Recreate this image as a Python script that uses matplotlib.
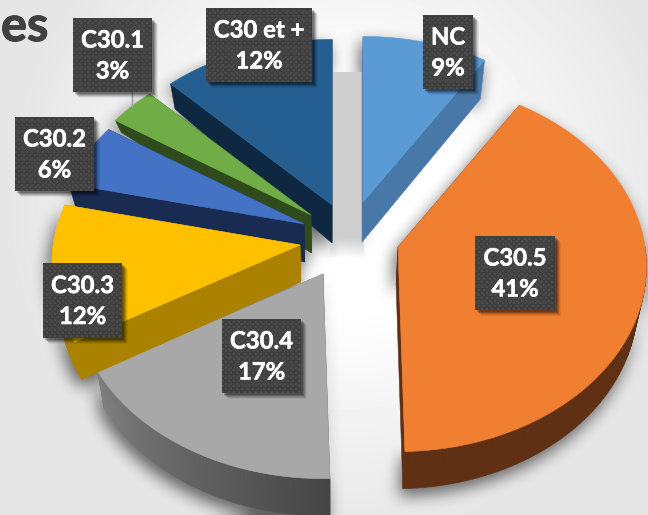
import numpy as np
import matplotlib
matplotlib.use("Agg")
import matplotlib.pyplot as plt
import matplotlib.patheffects as pe
from matplotlib.patches import Polygon, Rectangle

# ---- data (labels show the rounded percentage)
categories = ["NC", "C30.5", "C30.4", "C30.3", "C30.2", "C30.1", "C30 et +"]
values = [9.0, 40.6, 17.0, 12.0, 5.6, 3.4, 12.4]

# ---- styles / layout
top_colors = ["#5b9bd5", "#f07f31", "#a8a8a8", "#ffc000", "#4472c4", "#70ad47", "#255e91"]
wall_colors = ["#4778a8", "#5f3013", "#555555", "#ab8200", "#1a2b52", "#2f4a1b", "#0e2841"]
apex_px = [(363, 202), (398, 247), (323, 274), (300, 245), (304, 224), (311, 215), (332, 205)]
outer_depth = [39, 37, 37, 37, 25, 12, 25]
apex_depth = [40, 38, 38, 37, 38, 38, 38]
draw_order = [6, 5, 4, 2, 3, 0, 1]
label_boxes = [(423, 15, 473, 89), (475, 236, 555, 310), (222, 319, 301, 393),
               (43, 263, 122, 338), (15, 117, 94, 191), (73, 18, 152, 92), (206, 8, 312, 82)]
R, RA, K, VX, SHR = 247.0, 183.0, 0.1056, 330.0, 0.028

plt.rcParams["font.family"] = ["Lato", "DejaVu Sans"]
fig = plt.figure(figsize=(6.48, 5.15), dpi=100)
ax = fig.add_axes([0, 0, 1, 1])
ax.set_xlim(0, 648)
ax.set_ylim(515, 0)
ax.axis("off")

# background glow
yy, xx = np.mgrid[0:515, 0:648]
dist = np.hypot(xx - 345, yy - 200)
bg = 1.0 - 0.10 * np.clip((dist - 110) / 230, 0, 1)
ax.imshow(bg, cmap="gray", vmin=0, vmax=1, extent=(0, 648, 515, 0), aspect="auto", zorder=0)


def proj(theta):
    d = 1 + K * np.cos(theta)
    return R * np.sin(theta) / d, -RA * np.cos(theta) / d


def bottom(x, y, frac, i):
    depth = apex_depth[i] + (outer_depth[i] - apex_depth[i]) * frac
    return x + (VX - x) * SHR, y + depth


fractions = np.array(values) / sum(values)
edges = np.concatenate([[0], np.cumsum(fractions)]) * 2 * np.pi
slices = []
for i in range(len(values)):
    th = np.linspace(edges[i], edges[i + 1], max(8, int(values[i] * 3)))
    dx, dy = proj(th)
    ax0, ay0 = apex_px[i]
    slices.append((th, ax0 + dx, ay0 + dy, ax0, ay0))

# soft shadows: rasterise the outlines off-screen, blur, and lay down as an image
sfig = plt.figure(figsize=(6.48, 5.15), dpi=100, facecolor="white")
sax = sfig.add_axes([0, 0, 1, 1])
sax.set_xlim(0, 648)
sax.set_ylim(515, 0)
sax.axis("off")
for i in range(len(values)):
    th, x, y, a0, b0 = slices[i]
    bx, by = bottom(x, y, 1, i)
    a1, b1 = bottom(a0, b0, 0, i)
    pts = np.column_stack([np.r_[a0, x, bx[::-1], a1], np.r_[b0, y, by[::-1], b1]])
    sax.add_patch(Polygon(pts + [-3, 7], closed=True, fc="black", ec="black"))
sfig.canvas.draw()
mask = 1.0 - np.asarray(sfig.canvas.buffer_rgba())[..., 0] / 255.0
plt.close(sfig)


def box_blur(a, r, axis):
    kernel = np.ones(2 * r + 1) / (2 * r + 1)
    pad = [(r, r) if k == axis else (0, 0) for k in range(2)]
    p = np.pad(a, pad, mode="edge")
    return np.apply_along_axis(lambda v: np.convolve(v, kernel, mode="valid"), axis, p)


blur = mask
for _ in range(3):
    blur = box_blur(box_blur(blur, 7, 0), 7, 1)
sh = np.zeros(blur.shape + (4,))
sh[..., 3] = np.clip(blur, 0, 1) * 0.58
ax.imshow(sh, extent=(0, 648, 515, 0), aspect="auto", zorder=1)

# flat shade in the central gap
g = np.zeros((190, 2, 4))
g[..., :3] = 0.81
g[..., 3] = np.clip((258 - np.linspace(72, 258, 190)) / 20, 0, 1)[:, None]
ax.imshow(g, extent=(330, 364, 258, 72), aspect="auto", zorder=2)

# slices, back to front
z = 3
for i in draw_order:
    th, x, y, a0, b0 = slices[i]
    a1, b1 = bottom(a0, b0, 0, i)
    bx, by = bottom(x, y, 1, i)
    wc = wall_colors[i]
    for k in (0, -1):
        ax.add_patch(Polygon([(a0, b0), (x[k], y[k]), (bx[k], by[k]), (a1, b1)], closed=True,
                             fc=wc, ec=wc, lw=0.4, zorder=z))
    idx = np.where(np.cos(th) < 0.02)[0]
    if len(idx) > 1:
        fine = np.linspace(th[idx[0]], th[idx[-1]], 60)
        dx, dy = proj(fine)
        fx, fy = a0 + dx, b0 + dy
        gx, gy = bottom(fx, fy, 1, i)
        for j in range(len(fine) - 1):
            if categories[i] == "C30.4":
                t = j / (len(fine) - 2)
                c = matplotlib.colors.to_hex(np.array([0.27] * 3) * (1 - t) + np.array([0.50] * 3) * t)
            else:
                c = wc
            ax.add_patch(Polygon([(fx[j], fy[j]), (fx[j + 1], fy[j + 1]), (gx[j + 1], gy[j + 1]),
                                  (gx[j], gy[j])], closed=True, fc=c, ec=c, lw=0.5, zorder=z))
    ax.add_patch(Polygon(np.column_stack([np.r_[a0, x], np.r_[b0, y]]), closed=True,
                         fc=top_colors[i], ec=top_colors[i], lw=0.4, zorder=z + 0.5))
    z += 1

# leader line
ax.plot([132, 132], [92, 106], color="#a0a0a0", lw=1.0, zorder=20)

# labels
stroke = [pe.withStroke(linewidth=0.4, foreground="white")]
for cat, val, (x0, y0, x1, y1) in zip(categories, values, label_boxes):
    for off, al in ((6, 0.06), (5, 0.10), (4, 0.14), (3, 0.18), (2, 0.22)):
        ax.add_patch(Rectangle((x0 + off, y0 + off), x1 - x0, y1 - y0, fc="black", ec="none",
                               alpha=al, zorder=21))
    ax.add_patch(Rectangle((x0, y0), x1 - x0, y1 - y0, fc="#404040", ec="none", zorder=22))
    px, py = [], []
    for r, yd in enumerate(np.arange(y0 + 2.7, y1 - 1, 2.7)):
        for xd in np.arange(x0 + (2.7 if r % 2 else 0.0) + 1.2, x1 - 1, 5.4):
            px.append(xd)
            py.append(yd)
    ax.scatter(px, py, s=0.9, marker="s", color="#4d4d4d", linewidths=0, zorder=23)
    ax.text((x0 + x1) / 2, (y0 + y1) / 2 + 0.5, f"{cat}\n{round(val)}%", color="white",
            fontweight="bold", fontsize=17.2, ha="center", va="center", linespacing=1.42,
            zorder=24, path_effects=stroke)

# clipped title fragment at the top-left
ax.text(1, 41, "es", color="#404040", fontweight="bold", fontsize=35, ha="left",
        va="baseline", zorder=24, path_effects=[pe.withStroke(linewidth=0.8, foreground="#404040")])

fig.savefig("out.png", dpi=100)
